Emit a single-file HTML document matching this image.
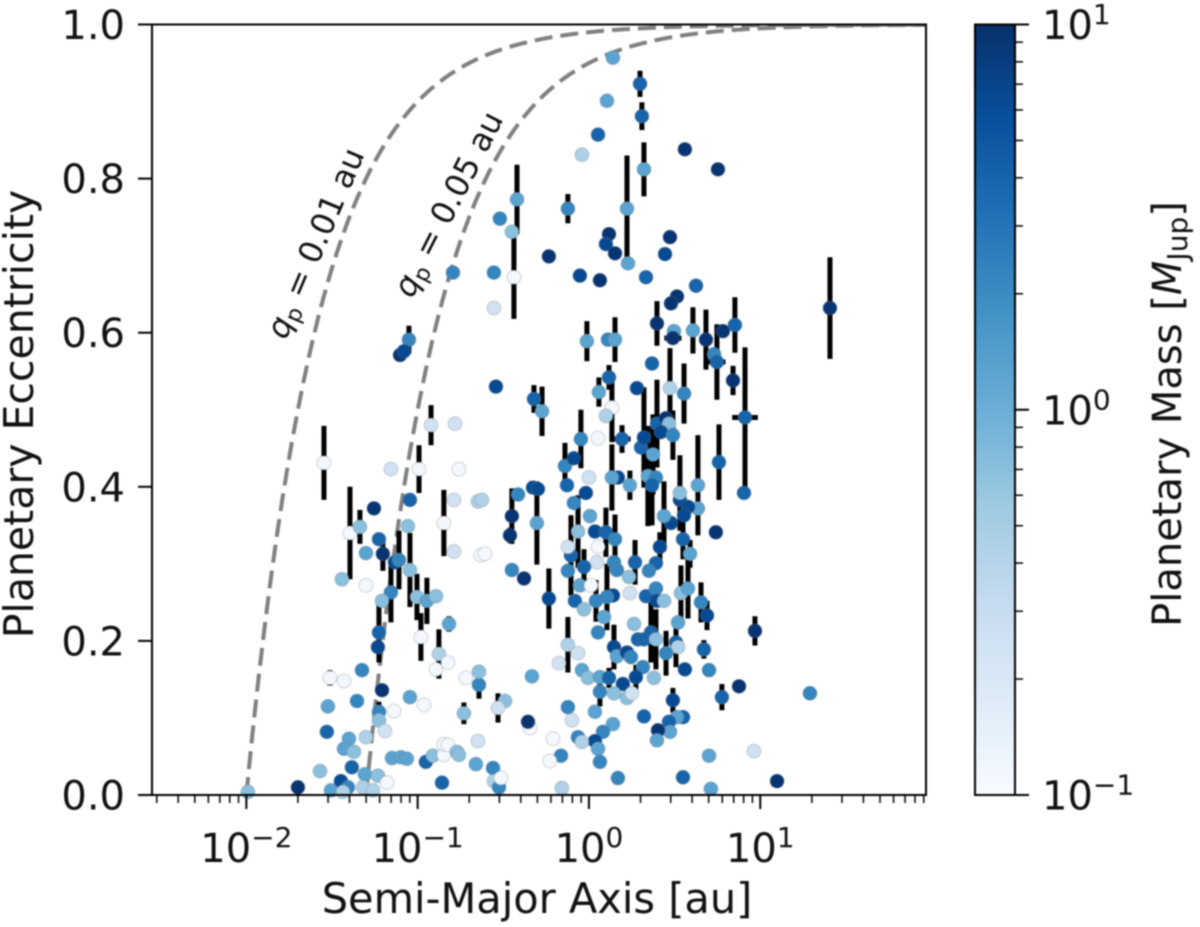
<!DOCTYPE html>
<html>
<head>
<meta charset="utf-8">
<title>Planetary Eccentricity vs Semi-Major Axis</title>
<style>
html,body{margin:0;padding:0;background:#fff;width:1200px;height:927px;overflow:hidden}
svg{display:block;filter:blur(.8px)}
text{font-family:"DejaVu Sans","Liberation Sans",sans-serif;fill:#111}
</style>
</head>
<body>
<svg id="chart" xmlns="http://www.w3.org/2000/svg" width="1200" height="927" viewBox="0 0 1200 927">
<defs>
<linearGradient id="blues" x1="0" y1="1" x2="0" y2="0">
<stop offset="0" stop-color="#f7fbff"/><stop offset=".125" stop-color="#deebf7"/><stop offset=".25" stop-color="#c6dbef"/><stop offset=".375" stop-color="#9ecae1"/><stop offset=".5" stop-color="#6baed6"/><stop offset=".625" stop-color="#4292c6"/><stop offset=".75" stop-color="#2171b5"/><stop offset=".875" stop-color="#08519c"/><stop offset="1" stop-color="#08306b"/>
</linearGradient>
<clipPath id="plot-clip"><rect x="152" y="24.5" width="774" height="770.5"/></clipPath>
</defs>
<g id="curves" clip-path="url(#plot-clip)"></g>
<g id="errs" clip-path="url(#plot-clip)"></g>
<g id="points"></g>
<text transform="translate(315,243) rotate(-67)" text-anchor="middle" dy=".35em" font-size="32"><tspan font-style="italic">q</tspan><tspan font-size="22" dy="5">p</tspan><tspan dy="-5"> = 0.01 au</tspan></text>
<text transform="translate(448,204) rotate(-63)" text-anchor="middle" dy=".35em" font-size="32"><tspan font-style="italic">q</tspan><tspan font-size="22" dy="5">p</tspan><tspan dy="-5"> = 0.05 au</tspan></text>
<rect x="152" y="24.5" width="774" height="770.5" fill="none" stroke="#000" stroke-width="2"/>
<g id="xticks"></g>
<g id="yticks"></g>
<text x="537" y="913" text-anchor="middle" font-size="41.5">Semi-Major Axis [au]</text>
<text transform="translate(33,414) rotate(-90)" text-anchor="middle" font-size="41">Planetary Eccentricity</text>
<rect x="975" y="24.5" width="40" height="770.5" fill="url(#blues)" stroke="#000" stroke-width="2"/>
<g id="cticks"></g>
<text transform="translate(1181,414) rotate(-90)" text-anchor="middle" font-size="40">Planetary Mass [<tspan font-style="italic">M</tspan><tspan font-size="28" dy="6">Jup</tspan><tspan dy="-6">]</tspan></text>
</svg>
<script>
// log10 of the semi-major axis [au]
const logSemiMajor = [
-1.547,-1.395,-1.337,-1.255,-1.226,-1.302,-1.203,-1.442,-1.302,-1.045,
-1.057,-1.045,-1.133,-1.109,-1.156,-1.208,-1.226,-1.232,-1.325,-1.512,
-1.430,-1.208,-1.524,-1.354,-1.226,-1.226,-1.138,-1.045,-.963,-1.530,
-1.191,-1.401,-1.302,-1.430,-1.372,-1.150,-1.098,-1.063,-.952,-.911,
-.847,-.847,-.823,-.771,-.759,-.660,-1.570,-1.384,-1.448,-1.407,
-1.308,-1.232,-1.179,-1.699,-1.506,-1.319,-1.261,-1.991,-.858,-1.436,
-.922,-.782,-1.156,-.992,-.759,-.788,-.648,-.847,-.788,-.631,
-1.004,-.946,-.893,-.981,-.817,-.876,-.893,-.823,-.718,-.642,
-.730,-.642,-.648,-1.051,-1.103,-1.080,-.794,-.555,-.520,-.420,
-.450,-.438,-.555,.140,.298,.105,.309,.053,-.041,.321,
.560,.753,-.123,.222,.117,.099,.152,.228,.473,.444,
.333,.625,-.234,-.053,.064,.514,.479,1.407,.397,.496,
.490,.607,.683,.782,.852,.730,.747,.841,.368,-.012,
.111,.152,.117,.058,.280,.473,.555,-.543,-.321,-.274,
.134,.099,.397,.450,.467,.420,.490,.911,.759,.905,
.741,.636,.636,.531,.531,.578,.555,.479,.438,.549,
.590,.414,.269,.391,.350,.146,.163,.047,-.029,-.123,
-.105,-.123,.053,-.064,.035,.099,.152,.006,-.088,-.018,
-.128,0,-.140,-.088,-.047,.053,.193,.169,.134,.239,
.304,.321,.374,.344,.391,.368,-.414,-.327,-.298,-.304,
-.450,-.461,-.450,-.379,-.625,-.607,-.234,-.082,-.053,.012,
.140,.105,.041,-.029,.088,.053,.234,.239,.333,.391,
.397,.438,.537,.578,.654,.689,.520,.263,.969,.362,
.350,.286,.321,.391,.508,.520,.671,.450,.146,.163,
.222,.245,-.123,-.064,-.175,-.041,-.006,.064,.117,.315,
.274,.379,.560,.701,.198,.146,.064,.222,.251,.876,
.776,.490,1.290,-.123,.035,-.099,.321,-.490,-.531,-.333,
-.344,-.356,.549,.514,.467,.473,.403,.397,.140,.082,
.035,-.064,-.041,.053,.064,-.210,-.163,-.228,.701,.963,
-.560,-.555,-.525,-.514,.169,.549,1.098,-.158,.712];
// orbital eccentricity
const eccentricity = [
.431,.340,.348,.372,.332,.314,.313,.280,.272,.383,
.349,.292,.302,.305,.263,.252,.211,.192,.162,.152,
.148,.136,.115,.122,.108,.097,.109,.127,.117,.082,
.083,.073,.075,.060,.056,.048,.049,.047,.043,.051,
.052,.066,.065,.056,.052,.040,.031,.036,.018,.010,
.027,.025,.016,.010,.006,.010,.006,.004,.016,.004,
.480,.482,.423,.423,.423,.383,.381,.353,.316,.311,
.257,.252,.258,.205,.222,.183,.163,.172,.152,.143,
.106,.160,.070,.591,.571,.576,.678,.678,.748,.773,
.731,.672,.632,.957,.923,.901,.881,.857,.831,.812,
.838,.812,.761,.761,.728,.715,.703,.690,.724,.702,
.672,.661,.699,.674,.668,.647,.638,.632,.612,.602,
.593,.603,.591,.602,.610,.572,.562,.538,.560,.589,
.591,.591,.542,.523,.528,.528,.521,.530,.514,.498,
.503,.492,.482,.489,.482,.471,.467,.490,.432,.392,
.341,.402,.372,.383,.392,.374,.363,.353,.362,.332,
.313,.322,.302,.301,.291,.302,.292,.302,.296,.291,
.311,.322,.322,.342,.342,.341,.332,.362,.379,.392,
.402,.412,.427,.437,.462,.463,.462,.412,.412,.402,
.451,.464,.442,.414,.412,.402,.390,.399,.397,.353,
.362,.337,.292,.281,.383,.313,.255,.252,.272,.272,
.259,.257,.252,.241,.231,.211,.283,.262,.258,.268,
.252,.252,.262,.268,.250,.233,.224,.222,.213,.211,
.205,.202,.202,.202,.198,.192,.189,.184,.192,.180,
.185,.179,.195,.184,.171,.162,.152,.153,.152,.166,
.153,.152,.163,.162,.144,.132,.134,.126,.132,.141,
.127,.123,.132,.114,.108,.097,.102,.122,.113,.154,
.087,.095,.101,.101,.095,.082,.084,.071,.092,.082,
.070,.075,.069,.060,.043,.073,.051,.044,.051,.057,
.035,.018,.010,.022,.022,.023,.018,.009,.008];
// log10 of the planetary mass [MJup]
const logMass = [
-.95,-.95,-.15,.97,.6,.1,.97,-.15,-.95,.6,
-.15,-.15,.8,.35,.35,-.15,.6,.8,.35,-.95,
-.95,.97,.1,.35,.35,-.15,-.95,.1,-.95,.6,
-.6,.1,-.35,.1,-.15,.1,.1,.1,.6,-.15,
-.95,-.95,-.95,-.15,-.15,.1,-.15,.6,.8,.35,
.1,-.15,-.95,.97,.1,-.35,-.35,-.15,.6,-.35,
-.6,-.6,-.6,-.95,-.95,-.6,-.35,-.95,-.6,-.95,
-.15,.1,-.15,-.95,.1,-.35,-.95,-.95,-.95,.35,
-.15,-.15,-.6,.35,.97,.8,.35,.35,.35,.1,
-.15,-.95,-.6,.1,.6,.1,.6,.6,-.35,.1,
.97,.97,.35,.1,.97,.8,.97,.1,.97,.8,
.6,.6,.97,.8,.97,.97,.97,.97,.97,.1,
.97,.1,.97,.97,.6,.35,.6,.97,.6,.1,
.35,.1,.6,.1,.8,-.35,.35,.8,.6,.1,
-.95,-.35,.6,.97,-.15,.8,.35,.6,.6,.6,
.97,.1,.1,.8,-.15,.8,.8,.8,.1,.6,
.1,.8,.6,.6,.35,.35,.35,-.6,.6,.35,
.6,-.6,-.95,-.15,.8,.6,.35,.1,.35,.8,
.6,-.6,.35,.8,.35,-.95,.6,.8,.1,.1,
.6,.8,.1,.1,.35,.6,.35,.8,.8,.1,
.97,.97,.35,.97,-.35,-.95,.8,.6,.1,-.95,
.8,.35,.35,-.15,.1,.35,-.15,-.6,.6,.35,
.8,-.15,-.15,.1,.35,.8,.1,-.15,.97,.6,
.6,.6,.6,-.15,.6,-.35,.6,.35,.8,.1,
.8,.35,-.35,-.6,-.6,.1,-.15,.1,.6,.35,
.8,-.15,.8,.35,.8,-.15,.35,-.15,-.6,.97,
.6,.8,.35,.35,.1,-.6,.6,-.15,-.6,.1,
-.95,.97,.6,.1,.6,.1,.97,.1,.1,.35,
.8,.35,-.35,.1,.35,-.95,.35,-.95,.1,-.6,
.35,-.35,.35,-.95,.35,.6,.97,-.35,.1];
// half-length of the eccentricity error bar (0 = none plotted)
const eccError = [
.048,.060,.022,0,0,0,.022,0,0,0,
0,.048,0,.038,.039,0,.039,0,0,.010,
0,0,0,0,.013,0,0,0,0,0,
0,0,0,0,0,0,0,0,0,0,
0,0,0,0,0,0,0,0,0,0,
0,0,0,0,0,0,0,0,0,0,
.026,0,0,.031,0,.005,0,.043,0,0,
.030,.030,0,.031,.010,.032,0,0,0,.018,
.014,0,0,.018,.006,0,0,0,0,.045,
0,.054,0,0,.017,0,.018,0,0,.035,
0,0,.019,.069,0,0,0,0,0,0,
0,0,0,0,0,0,0,.066,.029,0,
0,.030,.039,0,.036,0,.049,.019,0,.026,
0,.029,.016,.019,0,.052,.039,0,.018,.032,
.045,0,.057,0,0,0,.032,.091,.049,0,
0,.065,0,0,.049,0,0,0,.045,.026,
.018,.019,.029,0,0,0,0,0,.023,0,
.052,0,0,.047,0,.032,.032,0,0,0,
0,0,.030,0,.038,0,.018,0,.043,.019,
0,.065,.052,.065,0,.052,.006,0,0,.054,
.036,.010,0,0,0,0,.039,0,0,0,
0,.043,.027,0,0,0,0,0,0,0,
0,0,.036,.039,.026,.019,0,0,.019,.039,
0,0,0,.039,.032,0,.012,.029,.029,0,
0,0,.036,0,0,0,0,0,.013,0,
.016,0,0,0,0,0,.019,0,0,0,
.017,.016,0,0,0,0,0,0,.019,0,
0,0,0,0,0,0,0,0,0,0,
0,0,0,0,0,0,0,0,0,0,
0,0,0,0,0,0,0,0,0];
// horizontal error bars: planet location and half-width in log10 au
const xErrLogA = [.911,.490,.193,.747];
const xErrEcc = [.490,.593,.462,.562];
const xErrHalf = [.075,.05,.05,.05];
// periastron distances of the dashed curves [au]
const periastronValues = [0.01,0.05];
const xMajorExponents = [-2,-1,0,1];
const yTickValues = [0,0.2,0.4,0.6,0.8,1.0];
const yTickLabels = ["0.0","0.2","0.4","0.6","0.8","1.0"];
const colorbarExponents = [-1,0,1];
const blueStops = ["#f7fbff","#deebf7","#c6dbef","#9ecae1","#6baed6","#4292c6","#2171b5","#08519c","#08306b"];

const NS = 'http://www.w3.org/2000/svg';
const xLogMin = -2.5508, xLogMax = 1.9675, yTop = 24.5, yBottom = 795, plotLeft = 152, plotRight = 926;
function xPos(logA){ return plotLeft + (logA - xLogMin) / (xLogMax - xLogMin) * (plotRight - plotLeft); }
function yPos(e){ return yBottom - e * (yBottom - yTop); }
function cPos(logM){ return yBottom - (logM + 1) / 2 * (yBottom - yTop); }
function hex(c){ return [1,3,5].map(i => parseInt(c.substr(i,2),16)); }
function massColor(logM){
  const t = Math.max(0, Math.min(1, (logM + 1) / 2)) * (blueStops.length - 1);
  const i = Math.min(Math.floor(t), blueStops.length - 2), f = t - i;
  const a = hex(blueStops[i]), b = hex(blueStops[i + 1]);
  return 'rgb(' + a.map((v, k) => Math.round(v + (b[k] - v) * f)).join(',') + ')';
}
function make(tag, attrs, parent){
  const el = document.createElementNS(NS, tag);
  for (const k in attrs) el.setAttribute(k, attrs[k]);
  parent.appendChild(el);
  return el;
}
function powerLabel(parent, x, y, exp, anchor){
  const t = make('text', {x: x, y: y, 'font-size': 40, 'text-anchor': anchor}, parent);
  
  
  t.appendChild(document.createTextNode('10'));
  const s = make('tspan', {'font-size': 28, dy: -15}, t);
  s.textContent = String(exp).replace('-', '\u2212');
}

// dashed curves e = 1 - q/a
const curves = document.getElementById('curves');
periastronValues.forEach(function(q){
  let d = '';
  for (let lx = Math.log10(q); lx <= xLogMax; lx += 0.005) {
    const e = 1 - q / Math.pow(10, lx);
    d += (d ? 'L' : 'M') + xPos(lx).toFixed(1) + ' ' + yPos(e).toFixed(1);
  }
  const p = make('path', {d: d, fill: 'none', stroke: '#808080', 'stroke-width': 4, 'stroke-dasharray': '18 8'}, curves);
  
  
});

// error bars
const errs = document.getElementById('errs');
logSemiMajor.forEach(function(lx, i){
  if (!eccError[i]) return;
  const l = make('line', {x1: xPos(lx), x2: xPos(lx), y1: yPos(eccentricity[i] - eccError[i]), y2: yPos(eccentricity[i] + eccError[i]), stroke: '#000', 'stroke-width': 5}, errs);
  
  
});
xErrLogA.forEach(function(lx, i){
  const l = make('line', {x1: xPos(lx - xErrHalf[i]), x2: xPos(lx + xErrHalf[i]), y1: yPos(xErrEcc[i]), y2: yPos(xErrEcc[i]), stroke: '#000', 'stroke-width': 5}, errs);
  
  
});

// scatter points
const points = document.getElementById('points');
logSemiMajor.forEach(function(lx, i){
  const c = make('circle', {cx: xPos(lx), cy: yPos(eccentricity[i]), r: 7, fill: massColor(logMass[i]), stroke: 'rgba(120,120,120,.3)', 'stroke-width': 1}, points);
  
  
});

// x ticks
const xt = document.getElementById('xticks');
for (let dec = -3; dec <= 1; dec++) {
  for (let m = 1; m < 10; m++) {
    const lx = dec + Math.log10(m);
    if (lx < xLogMin || lx > xLogMax) continue;
    const tick = make('line', {x1: xPos(lx), x2: xPos(lx), y1: yBottom, y2: yBottom + (m === 1 ? 14 : 8), stroke: '#000', 'stroke-width': m === 1 ? 2 : 1.5}, xt);
    
    
  }
}
xMajorExponents.forEach(function(exp){
  powerLabel(xt, xPos(exp), 862, exp, 'middle');
});

// y ticks
const yt = document.getElementById('yticks');
yTickValues.forEach(function(v, i){
  const tick = make('line', {x1: plotLeft - 14, x2: plotLeft, y1: yPos(v), y2: yPos(v), stroke: '#000', 'stroke-width': 2}, yt);
  
  
  const t = make('text', {x: 125, y: yPos(v) + 14.5, 'font-size': 40, 'text-anchor': 'end'}, yt);
  
  
  t.textContent = yTickLabels[i];
});

// colorbar ticks
const ct = document.getElementById('cticks');
for (let dec = -1; dec <= 1; dec++) {
  for (let m = 1; m < 10; m++) {
    const lm = dec + Math.log10(m);
    if (lm > 1) continue;
    const tick = make('line', {x1: 1015, x2: 1015 + (m === 1 ? 14 : 8), y1: cPos(lm), y2: cPos(lm), stroke: '#000', 'stroke-width': m === 1 ? 2 : 1.5}, ct);
    
    
  }
}
colorbarExponents.forEach(function(exp){
  powerLabel(ct, 1042, cPos(exp) + 14.5, exp, 'start');
});
</script>
</body>
</html>
